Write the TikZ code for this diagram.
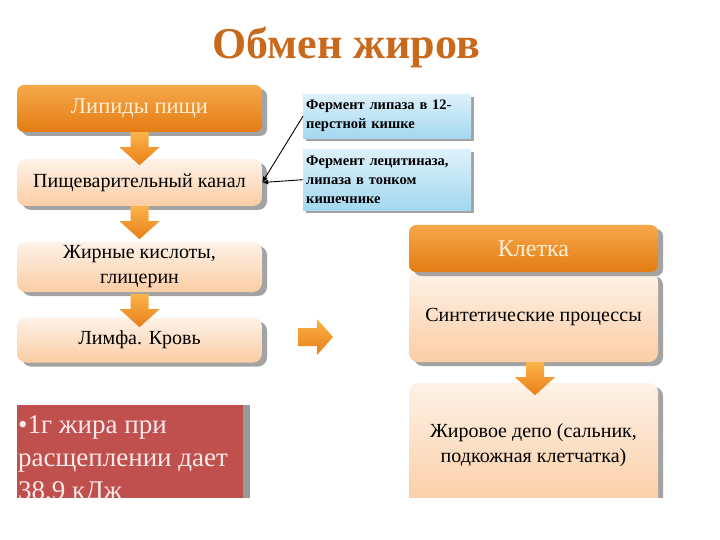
\documentclass[tikz,border=0pt]{standalone}
\usepackage{fontspec}
\setmainfont{Liberation Serif}
\usetikzlibrary{arrows.meta,shadows}
\definecolor{titlec}{HTML}{C8691C}
\definecolor{orgtop}{HTML}{F7A84A}
\definecolor{orgbot}{HTML}{E37C14}
\definecolor{pchtop}{HTML}{FEF2E8}
\definecolor{pchbot}{HTML}{FBCDA4}
\definecolor{blutop}{HTML}{DDF1FA}
\definecolor{blubot}{HTML}{A3D8F0}
\definecolor{redbox}{HTML}{C0504D}
\definecolor{redtxt}{HTML}{FBEAEA}
\definecolor{creamtxt}{HTML}{FDEFD6}
\definecolor{arrtop}{HTML}{FBB448}
\definecolor{arrbot}{HTML}{E97E18}
\definecolor{shadowc}{HTML}{9A9A9A}
\tikzset{
  shd/.style={drop shadow={shadow xshift=5pt,shadow yshift=-4pt,fill=shadowc,opacity=0.9}},
  headbox/.style={rounded corners=7pt,top color=orgtop,bottom color=orgbot,draw=none,
    text=creamtxt,font=\fontsize{22.5}{24}\selectfont,shd},
  peachbox/.style={rounded corners=9pt,top color=pchtop,bottom color=pchbot,draw=none,
    text=black,font=\fontsize{20}{22}\selectfont,align=center,shd},
  bluebox/.style={top color=blutop,bottom color=blubot,draw=none,text=black,
    font=\bfseries\fontsize{14.5}{19}\selectfont,align=left,text width=162pt,inner sep=3pt,
    drop shadow={shadow xshift=3pt,shadow yshift=-3pt,fill=shadowc,opacity=0.9}},
  conn/.style={draw=black,line width=0.9pt,-{Latex[length=6pt,width=5pt]}},
  darr/.pic={\path[top color=arrtop,bottom color=arrbot,draw=none]
     (-9,0) -- (9,0) -- (9,15) -- (20,15) -- (0,33) -- (-20,15) -- (-9,15) -- cycle;},
  rarr/.pic={\path[top color=arrtop,bottom color=arrbot,draw=none]
     (0,-9) -- (19,-9) -- (19,-18) -- (35,0) -- (19,18) -- (19,9) -- (0,9) -- cycle;}
}
\begin{document}
\begin{tikzpicture}[x=1pt,y=-1pt]
\useasboundingbox[fill=white] (0,0) rectangle (720,540);
\begin{scope}
\clip (0,0) rectangle (720,497);
% title
\node[text=titlec,font=\bfseries\fontsize{44}{48}\selectfont] (title) at (346,47) {Обмен жиров};
% left column
\node[headbox,minimum width=245pt,minimum height=47pt] (lip) at (139.5,108.5) {Липиды пищи};
\node[peachbox,minimum width=245pt,minimum height=47pt] (pish) at (139.5,182.5) {Пищеварительный канал};
\node[peachbox,minimum width=245pt,minimum height=50pt,font=\fontsize{20}{25}\selectfont] (zhir) at (139.5,267) {Жирные кислоты,\\глицерин};
\node[peachbox,minimum width=245pt,minimum height=45pt] (limf) at (139.5,340) {Лимфа. Кровь};
\pic at (lip.south) {darr};
\pic at (pish.south) {darr};
\pic at ([yshift=-2pt]zhir.south) {darr};
% blue boxes
\node[bluebox,minimum width=168pt,minimum height=44pt,anchor=north west] (b1) at (303,94) {Фермент липаза в 12-\\перстной кишке};
\node[bluebox,minimum width=168pt,minimum height=61pt,anchor=north west] (b2) at (303,149) {Фермент лецитиназа,\\липаза в тонком\\кишечнике};
\draw[conn] (b1.west) -- (pish.east);
\draw[conn] (b2.west) -- (pish.east);
% right arrow
\coordinate (ra) at (298,337);
\pic at (ra) {rarr};
% right column
\node[peachbox,minimum width=249pt,minimum height=90pt] (synt) at (533.5,317) {Синтетические процессы};
\node[headbox,minimum width=249pt,minimum height=47pt,font=\fontsize{24}{26}\selectfont] (klet) at (533.5,248.5) {Клетка};
\node[peachbox,minimum width=249pt,minimum height=124pt,font=\fontsize{20}{25}\selectfont] (depo) at (533.5,445) {Жировое депо (сальник,\\подкожная клетчатка)};
\pic at ([xshift=1.5pt]synt.south) {darr};
% red box
\fill[shadowc] (243,405) rectangle (250,500);
\node[fill=redbox,draw=none,minimum width=226pt,minimum height=100pt,anchor=north west,inner sep=0pt] (red) at (17,405) {};
\node[text=redtxt,font=\fontsize{27}{33}\selectfont,align=left,anchor=north west,inner sep=0pt] (redt) at (18,415) {•1г жира при\\расщеплении дает\\38,9 кДж};
\end{scope}
\end{tikzpicture}
\end{document}
